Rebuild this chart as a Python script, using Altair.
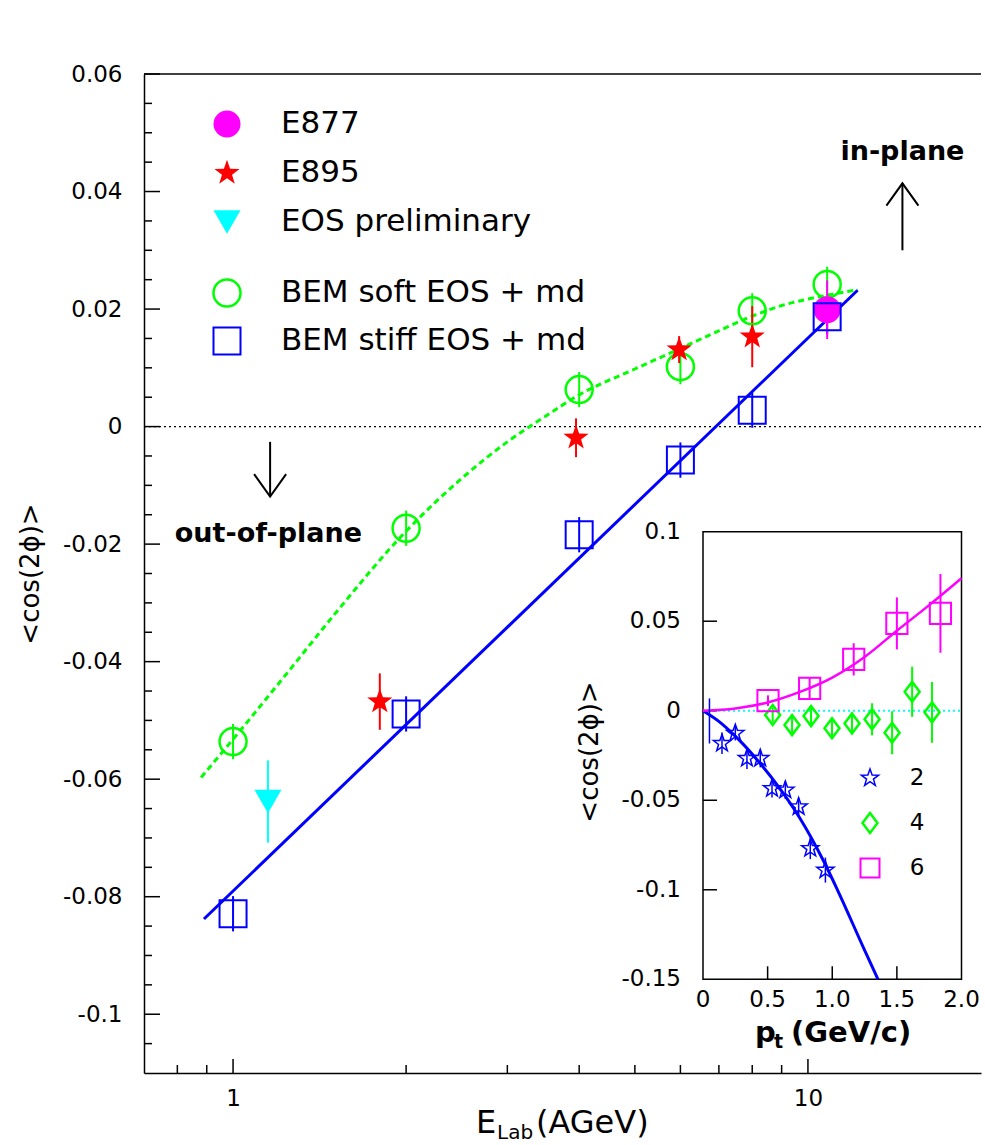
import altair as alt
import pandas as pd

FONT = "DejaVu Sans"
BLACK = "#000000"
GREEN = "#00ff00"
BLUE = "#0000ff"
MAGENTA = "#ff00ff"
RED = "#ff0000"
CYAN = "#00ffff"

# ---------------- main panel values ----------------
bem_energy = [1.0, 2.0, 4.0, 6.0, 8.0, 10.8]
bem_soft_v2 = [-0.0536, -0.0173, 0.0063, 0.0102, 0.0197, 0.0242]
bem_soft_err = [0.003, 0.003, 0.003, 0.003, 0.003, 0.003]
bem_stiff_v2 = [-0.0829, -0.0489, -0.0184, -0.0057, 0.0028, 0.0187]
bem_stiff_err = [0.003, 0.003, 0.003, 0.003, 0.003, 0.003]

e877_energy = [10.8]
e877_v2 = [0.0199]
e877_err = [0.0050]

e895_energy = [1.8, 3.95, 5.97, 8.0]
e895_v2 = [-0.0468, -0.0019, 0.0131, 0.0153]
e895_err = [0.0048, 0.0033, 0.0023, 0.0052]

eos_energy = [1.15]
eos_v2 = [-0.0638]
eos_err = [0.0070]

soft_curve_energy = [0.88, 1.0, 1.25, 1.5, 2.0, 2.5, 3.0, 3.5, 4.0, 5.0, 6.0, 7.0, 8.0, 9.0, 10.0, 11.0, 12.2]
soft_curve_v2 = [-0.0597, -0.0532, -0.0416, -0.0320, -0.0178, -0.0088, -0.0026, 0.0018, 0.0054,
                 0.0098, 0.0133, 0.0163, 0.0188, 0.0206, 0.0217, 0.0225, 0.0233]

stiff_line_energy = [0.89, 12.2]
stiff_line_v2 = [-0.0838, 0.0232]

y_major_ticks = [-0.1, -0.08, -0.06, -0.04, -0.02, 0.0, 0.02, 0.04, 0.06]
y_minor_ticks = [-0.105, -0.095, -0.09, -0.085, -0.075, -0.07, -0.065, -0.055, -0.05, -0.045,
                 -0.035, -0.03, -0.025, -0.015, -0.01, -0.005, 0.005, 0.01, 0.015, 0.025,
                 0.03, 0.035, 0.045, 0.05, 0.055]
x_major_ticks = [1, 10]
x_minor_ticks = [0.8, 0.9, 2, 3, 4, 5, 6, 7, 8, 9]

legend_labels = ["E877", "E895", "EOS preliminary", "BEM soft EOS + md", "BEM stiff EOS + md"]

annot_text = ["in-plane", "out-of-plane"]
annot_energy = [14.6, 1.152]
annot_v2 = [0.0468, -0.0182]
arrow_energy = [14.6, 1.16]
arrow_from = [0.0300, -0.0026]
arrow_to = [0.0414, -0.0119]

# ---------------- inset values ----------------
star2_pt = [0.147, 0.25, 0.34, 0.443, 0.534, 0.637, 0.74, 0.83, 0.947]
star2_v2 = [-0.0182, -0.0126, -0.0266, -0.0266, -0.0434, -0.0443, -0.0536, -0.0769, -0.0890]
star2_err = [0.006, 0.004, 0.006, 0.005, 0.005, 0.005, 0.005, 0.006, 0.007]
first_bar_pt = [0.05]
first_bar_v2 = [-0.0057]
first_bar_err = [0.0126]

diam4_pt = [0.539, 0.689, 0.836, 0.998, 1.153, 1.308, 1.463, 1.618, 1.772]
diam4_v2 = [-0.0024, -0.0080, -0.0030, -0.0098, -0.0071, -0.0048, -0.0123, 0.0106, -0.0009]
diam4_err = [0.004, 0.005, 0.006, 0.005, 0.006, 0.009, 0.012, 0.014, 0.017]

sq6_pt = [0.503, 0.825, 1.166, 1.50, 1.837]
sq6_v2 = [0.0056, 0.0125, 0.0287, 0.0488, 0.0544]
sq6_err = [0.003, 0.006, 0.009, 0.0145, 0.022]

curve2_pt = [0.0, 0.12, 0.24, 0.42, 0.585, 0.75, 0.93, 1.04, 1.25, 1.354]
curve2_v2 = [0.0, -0.0058, -0.0135, -0.0275, -0.0425, -0.0600, -0.0835, -0.1000, -0.1337, -0.1500]

curve6_pt = [0.0, 0.25, 0.5, 0.75, 1.0, 1.25, 1.5, 1.75, 2.0]
curve6_v2 = [0.0, 0.0013, 0.0046, 0.0105, 0.0185, 0.0300, 0.0447, 0.0590, 0.0740]

inset_legend_labels = ["2", "4", "6"]
iy_ticks = [-0.1, -0.05, 0.0, 0.05]
ix_ticks = [0.5, 1.0, 1.5]
iy_label_values = [-0.15, -0.1, -0.05, 0.0, 0.05, 0.1]
iy_label_text = ["-0.15", "-0.1", "-0.05", "0", "0.05", "0.1"]
ix_label_values = [0.0, 0.5, 1.0, 1.5, 2.0]
ix_label_text = ["0", "0.5", "1.0", "1.5", "2.0"]

# ---------------- geometry / styles ----------------
W, H = 837, 999
PAD = {"left": 144, "top": 74, "right": 4, "bottom": 72}
IX0, IX1 = 559.0, 817.5
IY_TOP, IY_BOT = 457.7, 905.3

STAR = ("M0,-1L0.2351,-0.3236L0.9511,-0.309L0.3804,0.1236L0.5878,0.809L0,0.4"
        "L-0.5878,0.809L-0.3804,0.1236L-0.9511,-0.309L-0.2351,-0.3236Z")
DIAMOND = "M0,-1L0.75,0L0,1L-0.75,0Z"
HEAD_UP = "M-1,1.4L0,0L1,1.4"
HEAD_DOWN = "M-1,-1.4L0,0L1,-1.4"

XS = alt.Scale(type="log", domain=[0.7, 20], nice=False)
YS = alt.Scale(domain=[-0.11, 0.06], nice=False, zero=False)

y_axis = alt.Axis(values=y_major_ticks,
                  labelExpr="datum.value < 0 ? '-' + format(-datum.value, '~g') : format(datum.value, '~g')",
                  ticks=False, tickSize=0, grid=False, domain=True, domainColor=BLACK, domainWidth=1.5,
                  labelFont=FONT, labelFontSize=23, labelColor=BLACK, labelPadding=22,
                  labelFlush=False, labelOverlap=False, title=None)
x_axis = alt.Axis(values=x_major_ticks, format="~g", ticks=False, tickSize=0, grid=False,
                  domain=True, domainColor=BLACK, domainWidth=1.5,
                  labelFont=FONT, labelFontSize=23, labelColor=BLACK, labelPadding=14,
                  labelFlush=False, labelOverlap=False, title=None)


def X(f="E"):
    return alt.X(f"{f}:Q", scale=XS, axis=x_axis)


def Y(f="v"):
    return alt.Y(f"{f}:Q", scale=YS, axis=y_axis)


def errdf(xname, xs, ys, es):
    return pd.DataFrame({xname: xs, "lo": [y - e for y, e in zip(ys, es)],
                         "hi": [y + e for y, e in zip(ys, es)]})


def text_at(txt, px, py, size, weight="normal", align="left", angle=0):
    kw = dict(font=FONT, fontSize=size, fontWeight=weight, align=align, baseline="middle", color=BLACK)
    if angle:
        kw["angle"] = angle
    return alt.Chart(pd.DataFrame({"t": [txt]})).mark_text(**kw).encode(
        x=alt.value(px), y=alt.value(py), text="t:N")


def symbol_at(px, py, **kw):
    return alt.Chart(pd.DataFrame({"k": [0]})).mark_point(opacity=1, **kw).encode(
        x=alt.value(px), y=alt.value(py))


# ---------------- main panel layers ----------------
main_layers = []
main_layers.append(alt.Chart(pd.DataFrame({"v": [0.0]})).mark_rule(
    color=BLACK, strokeWidth=1.3, strokeDash=[2, 3]).encode(y=Y("v")))
main_layers.append(alt.Chart(pd.DataFrame({"v": [YS.domain[1]]})).mark_rule(
    color=BLACK, strokeWidth=1.5).encode(y=Y("v")))
main_layers.append(alt.Chart(pd.DataFrame({"v": y_major_ticks})).mark_rule(
    color=BLACK, strokeWidth=1.5).encode(y=Y("v"), x=alt.value(0), x2=alt.value(16)))
main_layers.append(alt.Chart(pd.DataFrame({"v": y_minor_ticks})).mark_rule(
    color=BLACK, strokeWidth=1.5).encode(y=Y("v"), x=alt.value(0), x2=alt.value(8)))
main_layers.append(alt.Chart(pd.DataFrame({"E": x_major_ticks})).mark_rule(
    color=BLACK, strokeWidth=1.5).encode(x=X("E"), y=alt.value(H), y2=alt.value(H - 14)))
main_layers.append(alt.Chart(pd.DataFrame({"E": x_minor_ticks})).mark_rule(
    color=BLACK, strokeWidth=1.5).encode(x=X("E"), y=alt.value(H), y2=alt.value(H - 8)))

# model curves
main_layers.append(alt.Chart(pd.DataFrame({"E": soft_curve_energy, "v": soft_curve_v2})).mark_line(
    color=GREEN, strokeWidth=3, strokeDash=[6, 4], interpolate="monotone").encode(x=X(), y=Y()))
main_layers.append(alt.Chart(pd.DataFrame({"E": stiff_line_energy, "v": stiff_line_v2})).mark_line(
    color=BLUE, strokeWidth=3).encode(x=X(), y=Y()))

# error bars
for xs, ys, es, col in [(bem_energy, bem_soft_v2, bem_soft_err, GREEN),
                        (bem_energy, bem_stiff_v2, bem_stiff_err, BLUE),
                        (e877_energy, e877_v2, e877_err, MAGENTA),
                        (e895_energy, e895_v2, e895_err, RED),
                        (eos_energy, eos_v2, eos_err, CYAN)]:
    main_layers.append(alt.Chart(errdf("E", xs, ys, es)).mark_rule(color=col, strokeWidth=2).encode(
        x=X(), y=Y("lo"), y2="hi"))

# markers
main_layers.append(alt.Chart(pd.DataFrame({"E": bem_energy, "v": bem_soft_v2})).mark_point(
    shape="circle", filled=False, color=GREEN, size=729, strokeWidth=2.5, opacity=1).encode(x=X(), y=Y()))
main_layers.append(alt.Chart(pd.DataFrame({"E": e877_energy, "v": e877_v2})).mark_point(
    shape="circle", filled=True, color=MAGENTA, size=729, opacity=1).encode(x=X(), y=Y()))
main_layers.append(alt.Chart(pd.DataFrame({"E": bem_energy, "v": bem_stiff_v2})).mark_point(
    shape="square", filled=False, color=BLUE, size=729, strokeWidth=2, opacity=1).encode(x=X(), y=Y()))
main_layers.append(alt.Chart(pd.DataFrame({"E": e895_energy, "v": e895_v2})).mark_point(
    shape=STAR, filled=True, color=RED, size=700, opacity=1).encode(x=X(), y=Y()))
main_layers.append(alt.Chart(pd.DataFrame({"E": eos_energy, "v": eos_v2})).mark_point(
    shape="triangle-down", filled=True, color=CYAN, size=729, opacity=1).encode(x=X(), y=Y()))

# annotations
main_layers.append(alt.Chart(pd.DataFrame({"E": annot_energy, "v": annot_v2, "t": annot_text})).mark_text(
    font=FONT, fontSize=27, fontWeight="bold", align="center", baseline="middle", color=BLACK).encode(
    x=X(), y=Y(), text="t:N"))
arrows = pd.DataFrame({"E": arrow_energy, "a": arrow_from, "b": arrow_to})
main_layers.append(alt.Chart(arrows).mark_rule(color=BLACK, strokeWidth=2).encode(x=X(), y=Y("a"), y2="b"))
main_layers.append(alt.Chart(arrows.iloc[[0]]).mark_point(
    shape=HEAD_UP, filled=False, color=BLACK, size=1024, strokeWidth=2, fillOpacity=0, opacity=1).encode(
    x=X(), y=Y("b")))
main_layers.append(alt.Chart(arrows.iloc[[1]]).mark_point(
    shape=HEAD_DOWN, filled=False, color=BLACK, size=1024, strokeWidth=2, fillOpacity=0, opacity=1).encode(
    x=X(), y=Y("b")))

# legend
leg_y = [50, 99, 148, 219, 267]
main_layers.append(symbol_at(83, leg_y[0], shape="circle", filled=True, color=MAGENTA, size=729))
main_layers.append(symbol_at(83, leg_y[1], shape=STAR, filled=True, color=RED, size=700))
main_layers.append(symbol_at(83, leg_y[2], shape="triangle-down", filled=True, color=CYAN, size=729))
main_layers.append(symbol_at(83, leg_y[3], shape="circle", filled=False, color=GREEN, size=729, strokeWidth=2.5))
main_layers.append(symbol_at(83, leg_y[4], shape="square", filled=False, color=BLUE, size=729, strokeWidth=2))
for lab, ly in zip(legend_labels, leg_y):
    main_layers.append(text_at(lab, 137, ly, 31))

# axis titles
main_layers.append(text_at("<cos(2ϕ)>", -113, 500, 26, align="center", angle=270))
main_layers.append(text_at("E", 332, 1049, 32))
main_layers.append(text_at("Lab", 353, 1059, 20))
main_layers.append(text_at("(AGeV)", 392, 1049, 32))

main = alt.layer(*main_layers)

# ---------------- inset layers ----------------
XI = alt.Scale(domain=[0, 2], range=[IX0, IX1], nice=False, zero=False)
YI = alt.Scale(domain=[-0.15, 0.1], range=[IY_BOT, IY_TOP], nice=False, zero=False)


def XN(f="pt"):
    return alt.X(f"{f}:Q", scale=XI, axis=None)


def YN(f="v"):
    return alt.Y(f"{f}:Q", scale=YI, axis=None)


inset_layers = []
frame = pd.DataFrame({"x0": [XI.domain[0]], "x1": [XI.domain[1]], "y0": [YI.domain[0]], "y1": [YI.domain[1]]})
inset_layers.append(alt.Chart(frame).mark_rect(fill="white", stroke=BLACK, strokeWidth=1.5).encode(
    x=XN("x0"), x2="x1", y=YN("y0"), y2="y1"))
inset_layers.append(alt.Chart(pd.DataFrame({"x0": [XI.domain[0]], "x1": [XI.domain[1]], "v": [0.0]})).mark_rule(
    color=CYAN, strokeWidth=2, strokeDash=[2, 3]).encode(x=XN("x0"), x2="x1", y=YN("v")))
inset_layers.append(alt.Chart(pd.DataFrame({"v": iy_ticks})).mark_rule(color=BLACK, strokeWidth=1.5).encode(
    y=YN("v"), x=alt.value(IX0), x2=alt.value(IX0 + 14)))
inset_layers.append(alt.Chart(pd.DataFrame({"pt": ix_ticks})).mark_rule(color=BLACK, strokeWidth=1.5).encode(
    x=XN("pt"), y=alt.value(IY_BOT), y2=alt.value(IY_BOT - 13)))
inset_layers.append(alt.Chart(pd.DataFrame({"v": iy_label_values, "t": iy_label_text})).mark_text(
    font=FONT, fontSize=23, align="right", baseline="middle", color=BLACK).encode(
    y=YN("v"), x=alt.value(IX0 - 22), text="t:N"))
inset_layers.append(alt.Chart(pd.DataFrame({"pt": ix_label_values, "t": ix_label_text})).mark_text(
    font=FONT, fontSize=23, align="center", baseline="middle", color=BLACK).encode(
    x=XN("pt"), y=alt.value(IY_BOT + 21), text="t:N"))

inset_layers.append(alt.Chart(pd.DataFrame({"pt": curve2_pt, "v": curve2_v2})).mark_line(
    color=BLUE, strokeWidth=3, interpolate="monotone").encode(x=XN(), y=YN()))
inset_layers.append(alt.Chart(pd.DataFrame({"pt": curve6_pt, "v": curve6_v2})).mark_line(
    color=MAGENTA, strokeWidth=2.5, interpolate="monotone").encode(x=XN(), y=YN()))

for xs, ys, es, col, sw in [(first_bar_pt, first_bar_v2, first_bar_err, BLUE, 1.5),
                            (star2_pt, star2_v2, star2_err, BLUE, 1.5),
                            (diam4_pt, diam4_v2, diam4_err, GREEN, 2),
                            (sq6_pt, sq6_v2, sq6_err, MAGENTA, 2)]:
    inset_layers.append(alt.Chart(errdf("pt", xs, ys, es)).mark_rule(color=col, strokeWidth=sw).encode(
        x=XN(), y=YN("lo"), y2="hi"))

inset_layers.append(alt.Chart(pd.DataFrame({"pt": star2_pt, "v": star2_v2})).mark_point(
    shape=STAR, filled=False, color=BLUE, size=330, strokeWidth=1.5, opacity=1).encode(x=XN(), y=YN()))
inset_layers.append(alt.Chart(pd.DataFrame({"pt": diam4_pt, "v": diam4_v2})).mark_point(
    shape=DIAMOND, filled=False, color=GREEN, size=400, strokeWidth=2.5, opacity=1).encode(x=XN(), y=YN()))
inset_layers.append(alt.Chart(pd.DataFrame({"pt": sq6_pt, "v": sq6_v2})).mark_point(
    shape="square", filled=False, color=MAGENTA, size=450, strokeWidth=2, opacity=1).encode(x=XN(), y=YN()))

# inset legend
ileg_y = [704, 749, 794]
inset_layers.append(symbol_at(726, ileg_y[0], shape=STAR, filled=False, color=BLUE, size=330, strokeWidth=1.5))
inset_layers.append(symbol_at(726, ileg_y[1], shape=DIAMOND, filled=False, color=GREEN, size=400, strokeWidth=2.5))
inset_layers.append(symbol_at(726, ileg_y[2], shape="square", filled=False, color=MAGENTA, size=361, strokeWidth=2))
for lab, ly in zip(inset_legend_labels, ileg_y):
    inset_layers.append(text_at(lab, 773, ly, 23, align="center"))

# inset titles
inset_layers.append(text_at("<cos(2ϕ)>", 446, 678, 26, align="center", angle=270))
inset_layers.append(text_at("p", 611, 959, 29, weight="bold"))
inset_layers.append(text_at("t", 630, 968, 19, weight="bold"))
inset_layers.append(text_at("(GeV/c)", 647, 959, 29, weight="bold"))

inset = alt.layer(*inset_layers)

chart = alt.layer(main, inset).resolve_scale(x="independent", y="independent").properties(
    width=W, height=H, padding=PAD, autosize=alt.AutoSizeParams(type="none")
).configure_view(stroke=None)

chart.save("out.html", embed_options={"renderer": "svg", "actions": False})
